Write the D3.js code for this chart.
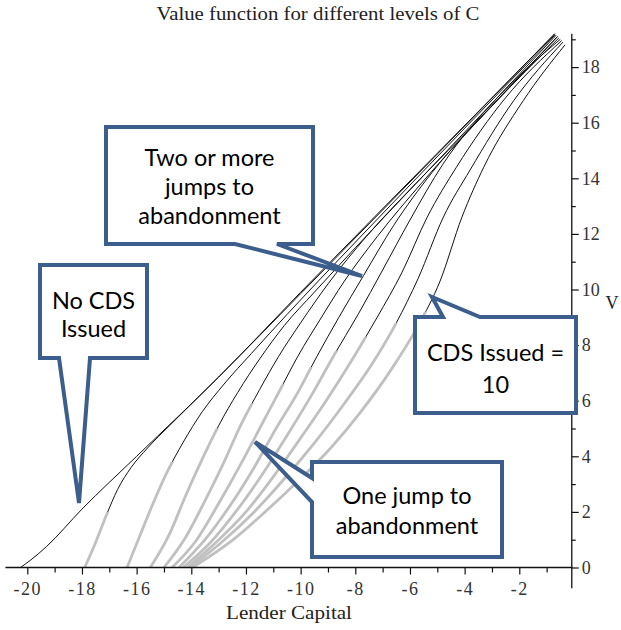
<!DOCTYPE html>
<html>
<head>
<meta charset="utf-8">
<script src="https://cdn.jsdelivr.net/npm/d3@7"></script>
<style>
  body { margin: 0; background: #fff; }
  text { fill: #222; }
</style>
</head>
<body>
<div id="chart"></div>
<script>
// tick values
var xMajorTicks = [-20, -18, -16, -14, -12, -10, -8, -6, -4, -2];
var yMajorTicks = [0, 2, 4, 6, 8, 10, 12, 14, 16, 18];

// value function curves, [lender capital, V], one per level of CDS issued
var curveC0 = [[-20.25, 0], [-19.9, 0.25], [-19.3, 0.75], [-18, 2.1], [-16, 4.0], [-13, 6.85], [-10, 9.9], [-5, 14.9], [-0.7, 19.2]];
var curveC1 = [[-17.9, 0], [-17.5, 0.9], [-17.1, 1.9], [-16.7, 2.8], [-16.2, 3.6], [-15.6, 4.3], [-14.8, 5.1], [-13, 6.85], [-10, 9.85], [-0.7, 19.2]];
var curveC2 = [[-16.35, 0], [-15.9, 1.1], [-15.4, 2.3], [-14.9, 3.4], [-14.3, 4.5], [-13.6, 5.6], [-12.8, 6.6], [-11.8, 7.7], [-10.5, 9.1], [-8, 11.7], [-4, 15.8], [-0.7, 19.15]];
var curveC3 = [[-15.5, 0], [-14.8, 1.2], [-14.2, 2.6], [-13.6, 3.9], [-13.0, 5.1], [-12.3, 6.3], [-11.5, 7.5], [-10.6, 8.7], [-9.5, 9.9], [-8, 11.5], [-5.5, 14.1], [-3, 16.7], [-0.65, 19.15]];
var curveC4 = [[-15.0, 0], [-14.2, 1.1], [-13.5, 2.4], [-12.8, 3.8], [-12.2, 5.1], [-11.5, 6.4], [-10.8, 7.6], [-10.0, 8.8], [-9.0, 10.2], [-7.6, 11.9], [-5.8, 13.8], [-3.4, 16.2], [-0.6, 19.1]];
var curveC5 = [[-14.7, 0], [-13.8, 1.0], [-13.0, 2.3], [-12.2, 3.7], [-11.5, 5.0], [-10.8, 6.3], [-10.1, 7.6], [-9.3, 8.9], [-8.4, 10.3], [-7.2, 11.9], [-5.6, 13.8], [-3.3, 16.3], [-0.6, 19.1]];
var curveC6 = [[-14.45, 0], [-13.5, 1.0], [-12.6, 2.2], [-11.7, 3.6], [-10.9, 5.0], [-10.1, 6.3], [-9.4, 7.6], [-8.6, 9.0], [-7.7, 10.5], [-6.6, 12.3], [-5.2, 14.2], [-3.0, 16.6], [-0.55, 19.05]];
var curveC7 = [[-14.3, 0], [-13.3, 0.9], [-12.3, 2.1], [-11.3, 3.5], [-10.4, 4.9], [-9.6, 6.2], [-8.8, 7.6], [-7.9, 9.1], [-7.0, 10.7], [-6.0, 12.5], [-4.8, 14.5], [-2.8, 16.9], [-0.5, 19.0]];
var curveC8 = [[-14.15, 0], [-13.1, 0.9], [-12.0, 2.0], [-10.9, 3.4], [-9.9, 4.8], [-9.0, 6.1], [-8.1, 7.5], [-7.2, 9.0], [-6.3, 10.6], [-5.37, 12.6], [-4.3, 14.4], [-2.5, 16.9], [-0.45, 18.95]];
var curveC9 = [[-14.05, 0], [-12.9, 0.9], [-11.7, 2.0], [-10.5, 3.3], [-9.4, 4.6], [-8.4, 5.9], [-7.4, 7.3], [-6.5, 8.8], [-5.7, 10.4], [-4.78, 12.6], [-3.8, 14.3], [-2.2, 16.8], [-0.4, 18.9]];
var curveC10 = [[-13.95, 0], [-12.6, 0.9], [-11.3, 2.0], [-10.0, 3.2], [-8.9, 4.3], [-7.8, 5.6], [-6.7, 7.1], [-5.7, 8.7], [-4.9, 10.3], [-4.1, 12.6], [-3.3, 14.4], [-1.85, 16.8], [-0.33, 18.8]];

var curves = [curveC0, curveC1, curveC2, curveC3, curveC4, curveC5, curveC6, curveC7, curveC8, curveC9, curveC10];
// V below which a curve is in the "one jump to abandonment" (grey) region
var oneJumpLimit = [0, 2.0, 3.8, 5.0, 5.9, 6.6, 7.2, 7.8, 8.3, 8.8, 9.2];

var svgWidth = 621, svgHeight = 630;

var svg = d3.select("#chart")
    .append("svg")
    .attr("width", svgWidth)
    .attr("height", svgHeight);

// scales
var x = d3.scaleLinear()
    .domain([-20, -2])
    .range([27.3, 519.3]);

var y = d3.scaleLinear()
    .domain([0, 18])
    .range([567.5, 67.1]);

var serif = "'Liberation Serif', 'Times New Roman', serif";

// title
svg.append("text")
    .attr("x", 318)
    .attr("y", 20)
    .attr("text-anchor", "middle")
    .attr("textLength", 323)
    .attr("lengthAdjust", "spacingAndGlyphs")
    .style("font-family", serif)
    .style("font-size", "19px")
    .text("Value function for different levels of C");

// clip paths splitting each curve in a grey and a black part
var defs = svg.append("defs");
curves.forEach(function(c, i) {
  defs.append("clipPath").attr("id", "below" + i)
    .append("rect")
    .attr("x", 0).attr("width", svgWidth)
    .attr("y", y(oneJumpLimit[i])).attr("height", svgHeight);
  defs.append("clipPath").attr("id", "above" + i)
    .append("rect")
    .attr("x", 0).attr("width", svgWidth)
    .attr("y", 0).attr("height", y(oneJumpLimit[i]));
});

var line = d3.line()
    .x(function(d) { return x(d[0]); })
    .y(function(d) { return y(d[1]); })
    .curve(d3.curveMonotoneX);

var plot = svg.append("g");

// grey parts first
curves.forEach(function(c, i) {
  if (oneJumpLimit[i] <= 0) return;
  plot.append("path")
      .datum(c)
      .attr("clip-path", "url(#below" + i + ")")
      .attr("fill", "none")
      .attr("stroke", "#c0c0c0")
      .attr("stroke-width", 2.8)
      .attr("d", line);
});
curves.forEach(function(c, i) {
  plot.append("path")
      .datum(c)
      .attr("clip-path", "url(#above" + i + ")")
      .attr("fill", "none")
      .attr("stroke", "#111")
      .attr("stroke-width", 1)
      .attr("d", line);
});

// x axis: line, minor and major ticks
var axisColor = "#111";
svg.append("line")
    .attr("x1", x(-20.8)).attr("x2", x(-0.05))
    .attr("y1", y(0)).attr("y2", y(0))
    .attr("stroke", axisColor).attr("stroke-width", 1.3);

var xMinor = svg.append("g")
    .attr("transform", "translate(0," + y(0) + ")")
    .call(d3.axisBottom(x).tickValues(d3.range(-19, 0, 2)).tickSize(5).tickFormat(""));
var xMajor = svg.append("g")
    .attr("transform", "translate(0," + y(0) + ")")
    .call(d3.axisBottom(x).tickValues(xMajorTicks).tickSize(7).tickPadding(8)
      .tickFormat(function(d) { return "-" + Math.abs(d); }));

// y axis
var yAxisX = x(-0.08);
svg.append("line")
    .attr("x1", yAxisX).attr("x2", yAxisX)
    .attr("y1", y(19.2)).attr("y2", y(-0.75))
    .attr("stroke", axisColor).attr("stroke-width", 1.3);

var yMinor = svg.append("g")
    .attr("transform", "translate(" + yAxisX + ",0)")
    .call(d3.axisRight(y).tickValues(d3.range(1, 20, 2)).tickSize(4).tickFormat(""));
var yMajor = svg.append("g")
    .attr("transform", "translate(" + yAxisX + ",0)")
    .call(d3.axisRight(y).tickValues(yMajorTicks).tickSize(7).tickPadding(3));

[xMinor, xMajor, yMinor, yMajor].forEach(function(g) {
  g.select(".domain").remove();
  g.selectAll(".tick line").attr("stroke", axisColor).attr("stroke-width", 1.2);
  g.selectAll("text")
    .style("font-family", serif)
    .style("font-size", "18px")
    .style("fill", "#333");
});
xMajor.selectAll("text").style("letter-spacing", "1.5px");

// axis titles
svg.append("text")
    .attr("x", 289).attr("y", 619)
    .attr("text-anchor", "middle")
    .attr("textLength", 126)
    .attr("lengthAdjust", "spacingAndGlyphs")
    .style("font-family", serif)
    .style("font-size", "18px")
    .text("Lender Capital");

svg.append("text")
    .attr("x", 612).attr("y", 309)
    .attr("text-anchor", "middle")
    .style("font-family", serif)
    .style("font-size", "18px")
    .text("V");

// callouts
var calloutBlue = "#3b5e8c";
var calloutFont = "Lato, 'Open Sans', sans-serif";

function callout(box, pointer, side, lines, lineY) {
  var l = box[0], t = box[1], r = box[2], b = box[3];
  var p;
  if (side === "bottom") {
    p = [[l, t], [r, t], [r, b], [pointer[1], b], pointer[2], [pointer[0], b], [l, b]];
  } else if (side === "top") {
    p = [[l, t], [pointer[0], t], pointer[2], [pointer[1], t], [r, t], [r, b], [l, b]];
  } else {
    p = [[l, t], [r, t], [r, b], [l, b], [l, pointer[1]], pointer[2], [l, pointer[0]]];
  }
  svg.append("path")
      .attr("d", "M" + p.join("L") + "Z")
      .attr("fill", "#fff")
      .attr("stroke", calloutBlue)
      .attr("stroke-width", 4)
      .attr("stroke-linejoin", "miter");
  lines.forEach(function(s, i) {
    svg.append("text")
        .attr("x", (l + r) / 2)
        .attr("y", lineY[i])
        .attr("text-anchor", "middle")
        .style("font-family", calloutFont)
        .style("font-size", "23.5px")
        .style("fill", "#000")
        .text(s);
  });
}

callout([106, 127, 313, 244], [235, 277, [362, 276]], "bottom",
        ["Two or more", "jumps to", "abandonment"], [166, 195, 224]);
callout([40, 265, 147, 358], [59, 90, [79, 503]], "bottom",
        ["No CDS", "Issued"], [309, 337]);
callout([415, 317, 576, 413], [443, 480, [432, 297]], "top",
        ["CDS Issued =", "10"], [361, 393]);
callout([312, 462, 502, 557], [478, 502, [255, 442]], "left",
        ["One jump to", "abandonment"], [504, 534]);
</script>
</body>
</html>
